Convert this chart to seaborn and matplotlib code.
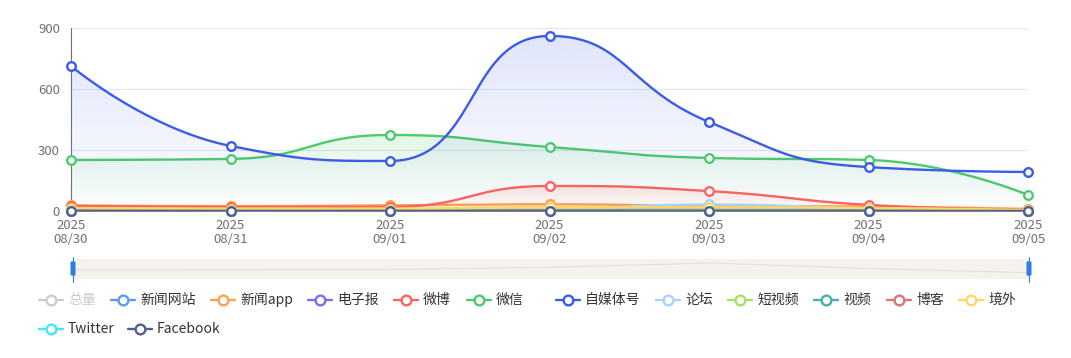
import numpy as np
import pandas as pd
import matplotlib
matplotlib.use('Agg')
import matplotlib.pyplot as plt
import seaborn as sns
from matplotlib.patches import Polygon, FancyBboxPatch
from matplotlib.lines import Line2D

# ---- data ----
dates = ['08/30', '08/31', '09/01', '09/02', '09/03', '09/04', '09/05']
year = '2025'

names = ['总量', '新闻网站', '新闻app', '电子报', '微博', '微信', '自媒体号',
         '论坛', '短视频', '视频', '博客', '境外', 'Twitter', 'Facebook']
colors = ['#cccccc', '#5a9cf2', '#ffa04f', '#7d6cf2', '#ff6262', '#4ccb6b', '#3a5ce6',
          '#a6d2fb', '#a6e066', '#4caeae', '#d97575', '#ffd666', '#3de8f7', '#4f5f8f']

total = [360, 370, 380, 470, 640, 420, 250]      # hidden series, only in the slider shadow
news_site = [10, 8, 8, 12, 15, 10, 3]
news_app = [28, 24, 28, 33, 25, 22, 10]
epaper = [0, 0, 0, 0, 0, 0, 0]
weibo = [25, 20, 20, 123, 98, 30, 7]
wechat = [251, 256, 374, 315, 261, 251, 79]
selfmedia = [713, 320, 246, 861, 438, 216, 192]
forum = [8, 6, 6, 10, 32, 12, 2]
short_video = [5, 4, 4, 6, 6, 4, 1]
video = [3, 2, 2, 3, 3, 2, 1]
blog = [2, 1, 1, 2, 2, 1, 0]
overseas = [15, 12, 12, 18, 18, 15, 5]
twitter = [0, 0, 0, 0, 0, 0, 0]
facebook = [0, 0, 0, 0, 0, 0, 0]

series = [news_site, news_app, epaper, weibo, wechat, selfmedia, forum,
          short_video, video, blog, overseas, twitter, facebook]

SX, SY = 159.5, 183 / 900.0   # pixel scale used for smoothing


def smooth_path(xs, ys, smooth=0.5, n=40):
    # echarts-like bezier smoothing, computed in pixel space
    px = np.asarray(xs, float) * SX
    py = np.asarray(ys, float) * SY
    N = len(px)
    out_x, out_y = [px[0]], [py[0]]
    cpx0, cpy0 = px[0], py[0]
    for k in range(1, N):
        x, y = px[k], py[k]
        prevX, prevY = px[k - 1], py[k - 1]
        if k == N - 1:
            cpx1, cpy1 = x, y
            ncx, ncy = x, y
        else:
            nextX, nextY = px[k + 1], py[k + 1]
            vx, vy = nextX - prevX, nextY - prevY
            lp = np.hypot(x - prevX, y - prevY)
            ln = np.hypot(nextX - x, nextY - y)
            r = ln / (ln + lp)
            ncx = x + vx * smooth * r
            ncy = y + vy * smooth * r
            ncx = max(min(ncx, max(nextX, x)), min(nextX, x))
            ncy = max(min(ncy, max(nextY, y)), min(nextY, y))
            vx, vy = ncx - x, ncy - y
            cpx1 = x - vx * lp / ln
            cpy1 = y - vy * lp / ln
            cpx1 = max(min(cpx1, max(prevX, x)), min(prevX, x))
            cpy1 = max(min(cpy1, max(prevY, y)), min(prevY, y))
            vx, vy = x - cpx1, y - cpy1
            ncx = x + vx * ln / lp
            ncy = y + vy * ln / lp
        t = np.linspace(0, 1, n)[1:]
        bx = (1 - t) ** 3 * prevX + 3 * (1 - t) ** 2 * t * cpx0 + 3 * (1 - t) * t ** 2 * cpx1 + t ** 3 * x
        by = (1 - t) ** 3 * prevY + 3 * (1 - t) ** 2 * t * cpy0 + 3 * (1 - t) * t ** 2 * cpy1 + t ** 3 * y
        out_x.extend(bx)
        out_y.extend(by)
        cpx0, cpy0 = ncx, ncy
    return np.array(out_x) / SX, np.array(out_y) / SY


sns.set_theme(style='white')
plt.rcParams['font.family'] = ['Noto Sans CJK SC', 'DejaVu Sans']

W, H = 1071, 358
fig = plt.figure(figsize=(W / 100, H / 100), dpi=100)
ax = fig.add_axes([71 / W, (H - 211) / H, (1028 - 71) / W, 183 / H])

xs = np.arange(len(dates))
for k, vals in enumerate(series):
    col = colors[k + 1]
    cx, cy = smooth_path(xs, vals)
    vmax = max(vals)
    z = 2 + 2 * k
    if vmax > 0:
        rgb = matplotlib.colors.to_rgb(col)
        grad = np.zeros((256, 1, 4))
        grad[..., :3] = rgb
        grad[:, 0, 3] = np.linspace(0.16, 0.0, 256)
        im = ax.imshow(grad, extent=(0, 6, 0, vmax), aspect='auto', origin='upper',
                       zorder=z, interpolation='bilinear')
        poly = Polygon(np.column_stack([np.r_[cx, cx[-1], cx[0]], np.r_[cy, 0, 0]]),
                       closed=True, facecolor='none', edgecolor='none')
        ax.add_patch(poly)
        im.set_clip_path(poly)
    df = pd.DataFrame({'x': cx, 'y': cy})
    sns.lineplot(data=df, x='x', y='y', ax=ax, color=col, lw=1.7, sort=False,
                 estimator=None, zorder=z + 1)
    ax.plot(xs, vals, ls='none', marker='o', ms=6.2, mfc='white', mec=col, mew=1.7,
            zorder=100 + k, clip_on=False)

ax.set_xlim(0, 6)
ax.set_ylim(0, 900)
ax.set_yticks([0, 300, 600, 900])
ax.set_xticks(xs)
ax.set_xticklabels([f'{year}\n{d}' for d in dates], linespacing=1.05)
ax.set_xlabel('')
ax.set_ylabel('')
ax.tick_params(axis='both', length=0, labelsize=9.5, colors='#6e7079')
ax.tick_params(axis='x', pad=6)
ax.tick_params(axis='y', pad=8)
ax.grid(axis='y', color='#e0e6f1', lw=0.8)
ax.set_axisbelow(True)
for s in ['top', 'right']:
    ax.spines[s].set_visible(False)
ax.spines['left'].set_color('#6e7079')
ax.spines['bottom'].set_color('#6e7079')
ax.spines['left'].set_linewidth(0.8)

# ---- data zoom slider ----
sl = fig.add_axes([73 / W, (H - 279) / H, (1029 - 73) / W, 20 / H])
sl.set_facecolor('#f5f1ec')
sns.lineplot(x=xs, y=total, ax=sl, color='#e6e1da', lw=0.8)
sl.set_xlim(0, 6)
sl.set_ylim(0, 800)
sl.set_xticks([])
sl.set_yticks([])
for s in sl.spines.values():
    s.set_visible(False)
for hx in (73, 1029):
    fig.add_artist(Line2D([hx / W, hx / W], [(H - 282) / H, (H - 257) / H],
                          color='#2f7de1', lw=0.8))
    fig.add_artist(FancyBboxPatch(((hx - 2.5) / W, (H - 276) / H), 5 / W, 15 / H,
                                  boxstyle='round,pad=0,rounding_size=0.004',
                                  facecolor='#2f7de1', edgecolor='none',
                                  transform=fig.transFigure))

# ---- legend ----
row1 = [39, 111, 211, 308, 394, 467, 556, 656, 728, 814, 887, 959]
row2 = [39, 128]
slots = [(lx, 300) for lx in row1] + [(lx, 329) for lx in row2]
for i, (lx, yy) in enumerate(slots):
    col = colors[i]
    tcol = '#cccccc' if i == 0 else '#333333'
    yf = (H - yy) / H
    fig.add_artist(Line2D([lx / W, (lx + 24) / W], [yf, yf], color=col, lw=1.7))
    fig.add_artist(Line2D([(lx + 12) / W], [yf], marker='o', ms=7, mfc='white',
                          mec=col, mew=1.7, ls='none'))
    fig.text((lx + 29) / W, yf, names[i], color=tcol, fontsize=10, va='center', ha='left')

fig.savefig('out.png', dpi=100)
